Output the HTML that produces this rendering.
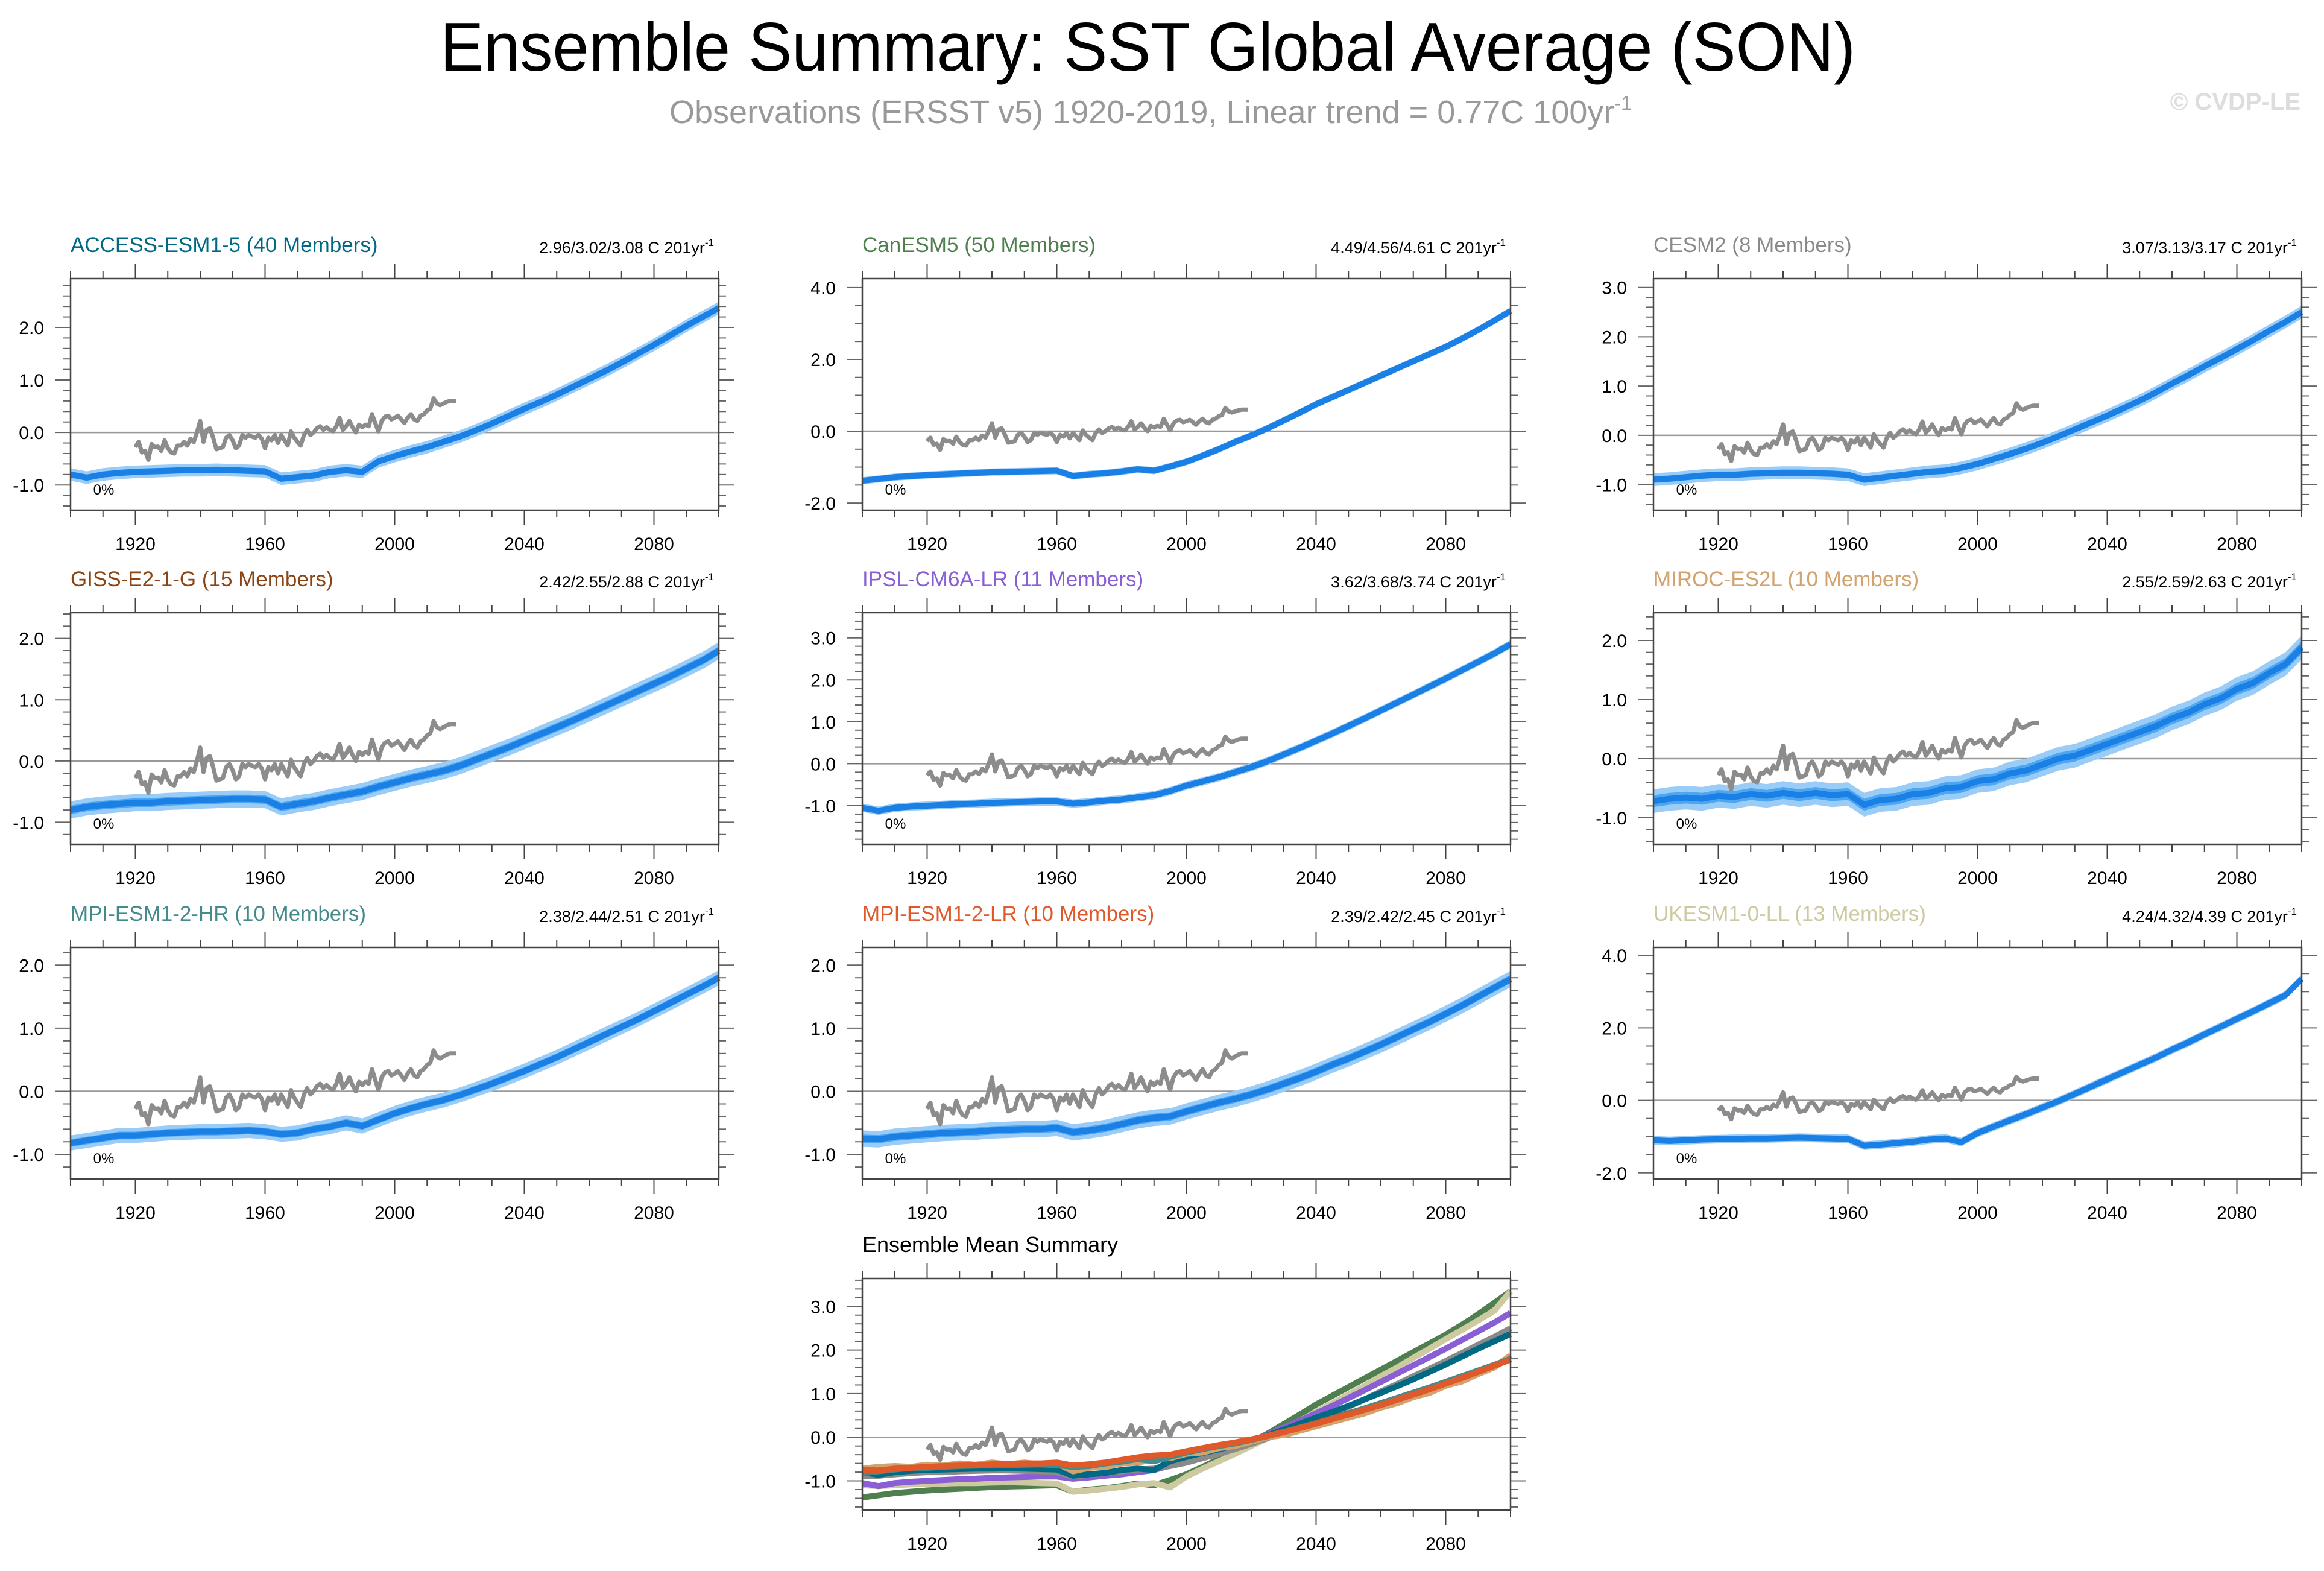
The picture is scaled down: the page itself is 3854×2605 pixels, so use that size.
<!DOCTYPE html>
<html><head><meta charset="utf-8"><style>
html,body{margin:0;padding:0;background:#fff;}
svg{display:block;font-family:"Liberation Sans",sans-serif;}
</style></head><body>
<svg id="fig" width="3854" height="2605" viewBox="0 0 3854 2605" xmlns="http://www.w3.org/2000/svg">
<text x="730" y="117" font-size="114" textLength="2347" lengthAdjust="spacingAndGlyphs" fill="#000">Ensemble Summary: SST Global Average (SON)</text>
<text x="1110" y="204" font-size="54" fill="#999">Observations (ERSST v5) 1920-2019, Linear trend = 0.77C 100yr<tspan dy="-22" font-size="32">-1</tspan></text>
<text x="3815" y="182" font-size="40" font-weight="bold" text-anchor="end" fill="#ddd">© CVDP-LE</text>
</svg>
<script>
// shared x data
const years5 = [];
for (let y = 1900; y <= 2100; y += 5) years5.push(y);
const xTickLabels = ["1920","1960","2000","2040","2080"];
const obsYears = [];
for (let y = 1920; y <= 2019; y++) obsYears.push(y);
const obsValues = [-0.28,-0.18,-0.38,-0.35,-0.52,-0.22,-0.28,-0.27,-0.35,-0.15,-0.3,-0.38,-0.4,-0.25,-0.25,-0.18,-0.25,-0.12,-0.18,0.0,0.22,-0.18,0.05,0.08,-0.1,-0.32,-0.3,-0.28,-0.1,-0.05,-0.15,-0.3,-0.25,-0.05,-0.1,-0.05,-0.08,-0.1,-0.05,-0.12,-0.3,-0.1,-0.15,-0.05,-0.2,-0.05,-0.15,-0.25,0.02,-0.1,-0.18,-0.25,-0.05,0.05,-0.05,0.0,0.08,0.12,0.05,0.1,0.05,0.02,0.12,0.28,0.05,0.12,0.22,0.1,0.0,0.15,0.1,0.15,0.12,0.35,0.18,0.02,0.22,0.3,0.32,0.25,0.28,0.32,0.25,0.18,0.28,0.35,0.25,0.22,0.32,0.35,0.42,0.45,0.65,0.55,0.52,0.55,0.58,0.6,0.6,0.6];

// model ensemble means (every 5 years 1900-2100)
const accessVals = [-0.80,-0.86,-0.80,-0.77,-0.75,-0.74,-0.73,-0.72,-0.72,-0.71,-0.72,-0.73,-0.74,-0.88,-0.85,-0.82,-0.75,-0.72,-0.75,-0.55,-0.45,-0.36,-0.28,-0.18,-0.08,0.04,0.17,0.31,0.45,0.58,0.72,0.87,1.02,1.17,1.33,1.5,1.67,1.85,2.03,2.2,2.37];
const canesmVals = [-1.38,-1.33,-1.28,-1.25,-1.22,-1.2,-1.18,-1.16,-1.14,-1.13,-1.12,-1.11,-1.1,-1.25,-1.2,-1.17,-1.12,-1.06,-1.1,-0.98,-0.85,-0.68,-0.5,-0.3,-0.12,0.08,0.3,0.52,0.75,0.95,1.15,1.35,1.55,1.75,1.95,2.15,2.35,2.58,2.82,3.08,3.35];
const cesmVals = [-0.9,-0.88,-0.85,-0.82,-0.8,-0.8,-0.78,-0.77,-0.76,-0.76,-0.77,-0.78,-0.8,-0.9,-0.86,-0.82,-0.78,-0.74,-0.72,-0.66,-0.58,-0.48,-0.38,-0.27,-0.15,-0.02,0.12,0.26,0.4,0.55,0.7,0.87,1.05,1.22,1.4,1.57,1.75,1.93,2.12,2.3,2.5];
const gissVals = [-0.8,-0.75,-0.72,-0.7,-0.68,-0.68,-0.66,-0.65,-0.64,-0.63,-0.62,-0.62,-0.63,-0.75,-0.7,-0.66,-0.6,-0.55,-0.5,-0.42,-0.35,-0.28,-0.22,-0.16,-0.08,0.02,0.12,0.22,0.33,0.44,0.55,0.66,0.78,0.9,1.02,1.14,1.26,1.38,1.51,1.64,1.8];
const ipslVals = [-1.05,-1.12,-1.05,-1.02,-1.0,-0.98,-0.96,-0.95,-0.93,-0.92,-0.91,-0.9,-0.9,-0.95,-0.92,-0.88,-0.85,-0.8,-0.75,-0.65,-0.52,-0.42,-0.32,-0.2,-0.08,0.06,0.22,0.38,0.55,0.72,0.9,1.08,1.27,1.46,1.65,1.84,2.03,2.23,2.43,2.63,2.85];
const mirocVals = [-0.72,-0.68,-0.66,-0.68,-0.63,-0.65,-0.6,-0.63,-0.58,-0.62,-0.58,-0.62,-0.6,-0.78,-0.7,-0.68,-0.6,-0.58,-0.5,-0.48,-0.38,-0.35,-0.25,-0.2,-0.1,0.0,0.05,0.15,0.25,0.35,0.45,0.55,0.68,0.78,0.92,1.02,1.18,1.28,1.45,1.6,1.88];
const mpihrVals = [-0.82,-0.78,-0.74,-0.7,-0.7,-0.68,-0.66,-0.65,-0.64,-0.64,-0.63,-0.62,-0.64,-0.68,-0.66,-0.6,-0.56,-0.5,-0.55,-0.45,-0.35,-0.27,-0.2,-0.14,-0.06,0.03,0.12,0.22,0.32,0.43,0.54,0.66,0.78,0.9,1.02,1.14,1.27,1.4,1.53,1.66,1.8];
const mpilrVals = [-0.75,-0.76,-0.72,-0.7,-0.68,-0.66,-0.65,-0.64,-0.62,-0.61,-0.6,-0.6,-0.58,-0.65,-0.62,-0.58,-0.52,-0.46,-0.42,-0.4,-0.32,-0.25,-0.18,-0.12,-0.05,0.03,0.12,0.21,0.31,0.42,0.52,0.63,0.74,0.86,0.98,1.1,1.23,1.36,1.5,1.64,1.78];
const ukesmVals = [-1.1,-1.12,-1.1,-1.08,-1.07,-1.06,-1.05,-1.05,-1.04,-1.03,-1.04,-1.05,-1.06,-1.25,-1.22,-1.18,-1.14,-1.08,-1.05,-1.15,-0.9,-0.72,-0.55,-0.38,-0.2,-0.02,0.18,0.38,0.58,0.78,0.98,1.18,1.4,1.6,1.82,2.03,2.25,2.46,2.68,2.9,3.35];
const spreadVals = [0.12,0.1,0.13,0.14,0.1,0.2,0.12,0.13,0.12];

const modelNames = ["ACCESS-ESM1-5 (40 Members)","CanESM5 (50 Members)","CESM2 (8 Members)","GISS-E2-1-G (15 Members)","IPSL-CM6A-LR (11 Members)","MIROC-ES2L (10 Members)","MPI-ESM1-2-HR (10 Members)","MPI-ESM1-2-LR (10 Members)","UKESM1-0-LL (13 Members)"];
const trendTexts = ["2.96/3.02/3.08","4.49/4.56/4.61","3.07/3.13/3.17","2.42/2.55/2.88","3.62/3.68/3.74","2.55/2.59/2.63","2.38/2.44/2.51","2.39/2.42/2.45","4.24/4.32/4.39"];
const yMax = [2.93,4.25,3.18,2.42,3.6,2.47,2.28,2.28,4.22];
const yMin = [-1.48,-2.2,-1.52,-1.36,-1.92,-1.45,-1.39,-1.39,-2.17];
const yTickVals = [[-1,0,1,2],[-2,0,2,4],[-1,0,1,2,3],[-1,0,1,2],[-1,0,1,2,3],[-1,0,1,2],[-1,0,1,2],[-1,0,1,2],[-2,0,2,4]];
const summaryYTicks = [-1,0,1,2,3];

const modelSeries = [accessVals,canesmVals,cesmVals,gissVals,ipslVals,mirocVals,mpihrVals,mpilrVals,ukesmVals];
const modelColors = ["#006a85","#4f7f4f","#8a8a8a","#8b4513","#8a5fd6","#d2a36e","#458b8b","#e0592a","#cdc9a0"];
const dataSlugs = ["access-esm1-5","canesm5","cesm2","giss-e2-1-g","ipsl-cm6a-lr","miroc-es2l","mpi-esm1-2-hr","mpi-esm1-2-lr","ukesm1-0-ll"];

const NS = "http://www.w3.org/2000/svg";
const svg = document.getElementById("fig");
function el(tag, attrs, parent) {
  const e = document.createElementNS(NS, tag);
  for (const k in attrs) e.setAttribute(k, attrs[k]);
  (parent || svg).appendChild(e);
  return e;
}
const colX = [117, 1430, 2742];
const rowY = [462, 1016, 1571, 2120];
const W = 1075, H = 384;

function makeAxes(g, x0, y0, ymin, ymax, yticks, slug) {
  const xs = yr => x0 + (yr - 1900) / 200 * W;
  const ys = v => y0 + (ymax - v) / (ymax - ymin) * H;
  const zl = el("line", {x1: x0, x2: x0 + W, y1: ys(0), y2: ys(0), stroke: "#999", "stroke-width": 2.5}, g);
  
  
  for (let yr = 1900; yr <= 2100; yr += 10) {
    const major = (yr - 1920) % 40 === 0;
    const L = major ? 25 : 12;
    el("line", {x1: xs(yr), x2: xs(yr), y1: y0 + H, y2: y0 + H + L, stroke: "#444", "stroke-width": 2}, g);
    el("line", {x1: xs(yr), x2: xs(yr), y1: y0, y2: y0 - L, stroke: "#444", "stroke-width": 2}, g);
  }
  xTickLabels.forEach(lab => {
    const t = el("text", {x: xs(+lab), y: y0 + H + 66, "font-size": 30, "text-anchor": "middle", fill: "#000"}, g);
    t.textContent = lab;
    
    
  });
  const step = yticks[1] - yticks[0];
  const minor = step >= 2 ? 0.5 : 0.2;
  for (let v = Math.ceil(ymin / minor) * minor; v <= ymax + 1e-6; v += minor) {
    const isMaj = yticks.some(t => Math.abs(t - v) < 1e-6);
    const L = isMaj ? 25 : 12;
    el("line", {x1: x0, x2: x0 - L, y1: ys(v), y2: ys(v), stroke: "#666", "stroke-width": 2}, g);
    el("line", {x1: x0 + W, x2: x0 + W + L, y1: ys(v), y2: ys(v), stroke: "#666", "stroke-width": 2}, g);
  }
  yticks.forEach(v => {
    const t = el("text", {x: x0 - 44, y: ys(v) + 11, "font-size": 30, "text-anchor": "end", fill: "#000"}, g);
    t.textContent = v.toFixed(1);
    
    
  });
  return {xs, ys};
}
function linePath(xsArr, vals, xs, ys) {
  const n = Math.min(xsArr.length, vals.length);
  let d = "";
  for (let i = 0; i < n; i++) d += (i ? "L" : "M") + xs(xsArr[i]).toFixed(1) + "," + ys(vals[i]).toFixed(1);
  return d;
}
function bandPath(vals, sp, xs, ys) {
  const n = Math.min(years5.length, vals.length);
  let d = "";
  for (let i = 0; i < n; i++) d += (i ? "L" : "M") + xs(years5[i]).toFixed(1) + "," + ys(vals[i] + sp).toFixed(1);
  for (let i = n - 1; i >= 0; i--) d += "L" + xs(years5[i]).toFixed(1) + "," + ys(vals[i] - sp).toFixed(1);
  return d + "Z";
}
function drawObs(g, xs, ys, slug) {
  const p = el("path", {d: linePath(obsYears, obsValues, xs, ys), fill: "none", stroke: "#8c8c8c", "stroke-width": 7, "stroke-linejoin": "round"}, g);
  
  
}

modelSeries.forEach((vals, i) => {
  const x0 = colX[i % 3], y0 = rowY[Math.floor(i / 3)];
  const slug = dataSlugs[i];
  const g = el("g", {});
  
  
  const {xs, ys} = makeAxes(g, x0, y0, yMin[i], yMax[i], yTickVals[i], slug);
  const sp = spreadVals[i];
  const b1 = el("path", {d: bandPath(vals, sp, xs, ys), fill: "#99ccf7"}, g);
  
  
  const b2 = el("path", {d: bandPath(vals, sp * 0.5, xs, ys), fill: "#4ea5f0"}, g);
  
  
  const ln = el("path", {d: linePath(years5, vals, xs, ys), fill: "none", stroke: "#1a80e6", "stroke-width": 10, "stroke-linejoin": "round"}, g);
  
  
  drawObs(g, xs, ys, slug);
  el("rect", {x: x0, y: y0, width: W, height: H, fill: "none", stroke: "#444", "stroke-width": 2.5}, g);
  const pct = el("text", {x: xs(1907), y: y0 + H - 26, "font-size": 24, fill: "#000"}, g);
  pct.textContent = "0%";
  
  
  const ti = el("text", {x: x0, y: y0 - 44, "font-size": 35, fill: modelColors[i]}, g);
  ti.textContent = modelNames[i];
  
  
  const tr = el("text", {x: x0 + W - 8, y: y0 - 42, "font-size": 27, "text-anchor": "end", fill: "#000"}, g);
  tr.textContent = trendTexts[i] + " C 201yr";
  const sup = el("tspan", {dy: -12, "font-size": 17}, tr);
  sup.textContent = "-1";
  
  
});

// summary panel
(function () {
  const x0 = colX[1], y0 = rowY[3];
  const g = el("g", {});
  
  
  const {xs, ys} = makeAxes(g, x0, y0, -1.67, 3.64, summaryYTicks, 'summary');
  drawObs(g, xs, ys, 'summary');
  const order = [1, 8, 4, 2, 0, 3, 5, 6, 7];
  order.forEach(i => {
    const p = el("path", {d: linePath(years5, modelSeries[i], xs, ys), fill: "none", stroke: modelColors[i], "stroke-width": 10, "stroke-linejoin": "round"}, g);
    
    
  });
  el("rect", {x: x0, y: y0, width: W, height: H, fill: "none", stroke: "#444", "stroke-width": 2.5}, g);
  const t = el("text", {x: x0, y: y0 - 44, "font-size": 36, fill: "#000"}, g);
  t.textContent = "Ensemble Mean Summary";
  
  
})();
</script>
</body></html>
